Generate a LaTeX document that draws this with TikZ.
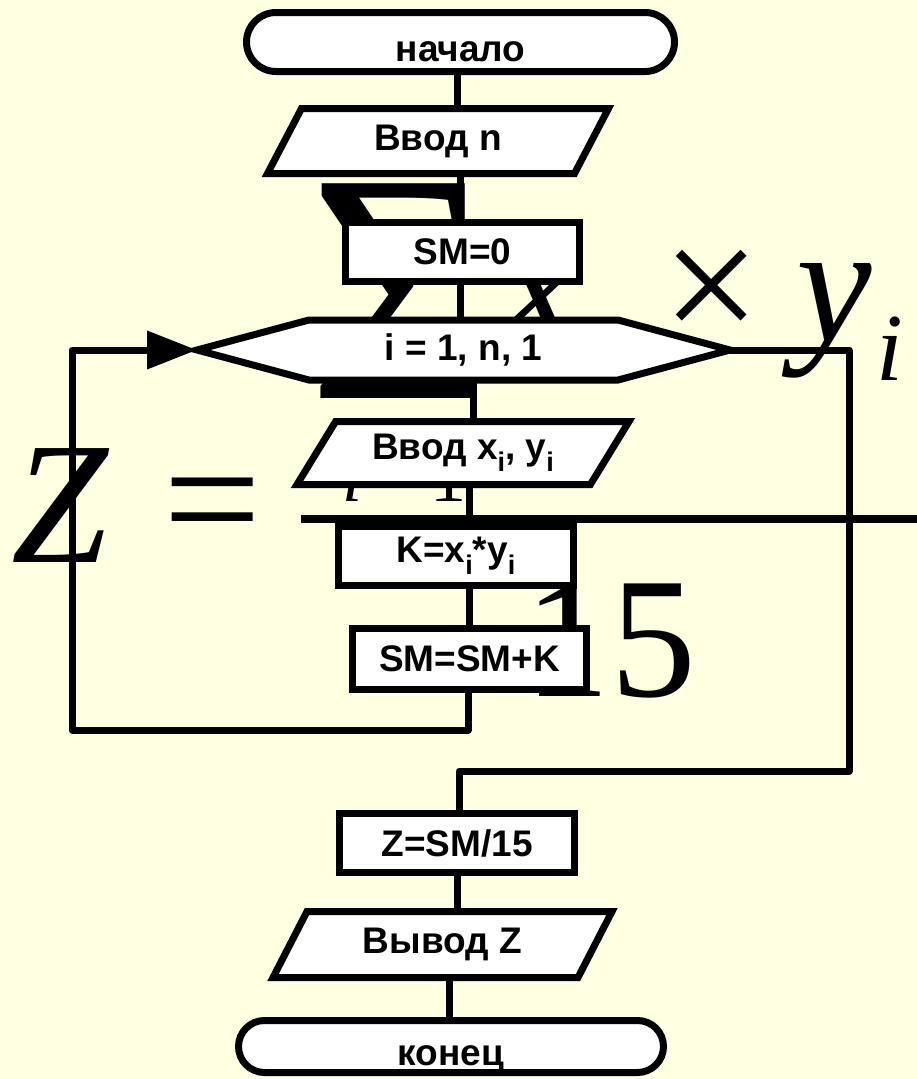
\documentclass[tikz,border=0pt]{standalone}
\usepackage{fontspec}
\usepackage{graphicx}
\usetikzlibrary{shapes.geometric,shapes.misc,shapes.symbols,arrows.meta,calc}
\newfontfamily\arialfont{Liberation Sans}
\newfontfamily\tmsfont{Liberation Serif}
\definecolor{bgc}{RGB}{255,255,225}
\newcommand{\sbi}[1]{\raisebox{-0.32em}{\fontsize{27}{27}\selectfont #1}}
\begin{document}
\begin{tikzpicture}[x=1pt,y=-1pt,
  every node/.style={outer sep=0pt},
  lbl/.style={font=\arialfont\bfseries\fontsize{37}{42}\selectfont, text=black},
  box/.style={lbl, draw=black, fill=white, line width=7pt, rectangle, inner sep=0pt},
  term/.style={lbl, draw=black, fill=white, line width=7pt, rounded rectangle, inner sep=0pt, text height=38pt, text depth=0pt},
  io/.style={lbl, draw=black, fill=white, line width=7pt, trapezium, trapezium left angle=44, trapezium right angle=136, trapezium stretches body, inner sep=0pt},
  loopbox/.style={lbl, draw=black, fill=white, line width=7pt, signal, signal to=west and east, signal pointer angle=30, inner sep=0pt},
  conn/.style={line width=7pt, line join=round},
  fml/.style={inner sep=0pt, text=black},
]
\fill[bgc] (0,0) rectangle (917,1079);
\useasboundingbox (0,0) rectangle (917,1079);

% background formula
\node[fml] (fsig) at (401.5,291.5) {\scalebox{0.97}[1]{\tmsfont\fontsize{328}{328}\selectfont Σ}};
\node[fml] (fz) at (60,505.5) {\tmsfont\itshape\fontsize{174}{174}\selectfont Z};
\node[fml] (feq) at (212.5,518) {\tmsfont\fontsize{174}{174}\selectfont =};
\node[fml, anchor=base west] (fx) at (500,340) {\tmsfont\itshape\fontsize{174}{174}\selectfont x};
\node[fml] (ftimes) at (712,297) {\tmsfont\fontsize{174}{174}\selectfont ×};
\node[fml] (fy) at (834,321) {\tmsfont\itshape\fontsize{170}{170}\selectfont y};
\node[fml] (fyi) at (890,348.5) {\tmsfont\itshape\fontsize{96}{96}\selectfont i};
\node[fml, anchor=base] (fli) at (352,501) {\tmsfont\itshape\fontsize{72}{72}\selectfont i};
\node[fml, anchor=base] (fl1) at (448.5,501) {\tmsfont\fontsize{72}{72}\selectfont 1};
\node[fml, anchor=base] (f15) at (610,696) {\tmsfont\fontsize{172}{172}\selectfont 15};
\coordinate (barL) at (301,519);
\coordinate (barR) at (917,519);
\draw[line width=8pt] (barL) -- (barR);

% flowchart
\node[term, minimum width=428pt, minimum height=59pt] (start) at (460.5,42) {начало};
\node[io, minimum width=341pt, minimum height=65pt] (in1) at (438,141) {Ввод n};
\node[box, minimum width=234pt, minimum height=59pt] (sm0) at (462.5,252) {SM=0};
\node[loopbox, minimum width=533pt, minimum height=60pt] (loop) at (463.5,350) {i = 1, n, 1};
\node[io, minimum width=332pt, minimum height=63pt] (in2) at (463,453) {Ввод x\sbi{i}, y\sbi{i}};
\node[box, minimum width=235pt, minimum height=59pt] (kb) at (456,556) {K=x\sbi{i}*y\sbi{i}};
\node[box, minimum width=234pt, minimum height=61pt] (smk) at (469.5,659) {SM=SM+K};
\node[box, minimum width=235pt, minimum height=59pt] (zb) at (457,843) {Z=SM/15};
\node[io, minimum width=339pt, minimum height=66pt] (out) at (442.5,944.5) {Вывод Z};
\node[term, minimum width=425pt, minimum height=52pt] (stop) at (451,1046.5) {конец};

% connectors
\draw[conn] ([xshift=-3.5pt]start.south) -- ([xshift=-3.5pt]start.south |- in1.north);
\draw[conn] ([xshift=-2.5pt]sm0.north) -- ([xshift=-2.5pt]sm0.north |- in1.south);
\draw[conn] ([xshift=-2.5pt]sm0.south) -- ([xshift=-2.5pt]sm0.south |- loop.north);
\draw[conn] ([xshift=10pt]loop.south) -- ([xshift=10pt]loop.south |- in2.north);
\draw[conn] ([xshift=6pt]in2.south) -- ([xshift=6pt]in2.south |- kb.north);
\draw[conn] (smk.north) -- (smk.north |- kb.south);
\coordinate (lb) at (72,730);
\draw[conn, -{Triangle[length=50pt,width=37pt]}] ([xshift=-1.5pt]smk.south) |- (lb) |- (loop.west);
\coordinate (rt) at (849,771);
\draw[conn] (loop.east) -| (rt) -| ([xshift=2pt]zb.north);
\draw[conn] (zb.south) -- (zb.south |- out.north);
\draw[conn] ([xshift=-2pt]stop.north) -- ([xshift=-2pt]stop.north |- out.south);
\end{tikzpicture}
\end{document}
